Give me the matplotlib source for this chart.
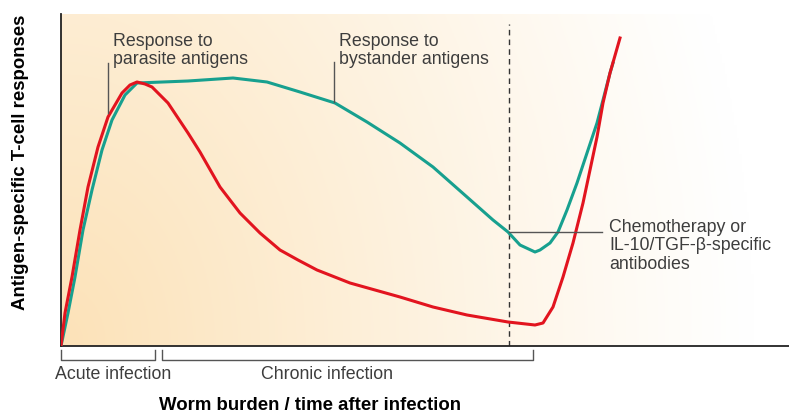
import numpy as np
import matplotlib.pyplot as plt

# ---- DATA (arbitrary units: x = time, y = response) ----
red_x = [0, 4, 11, 19, 27, 37, 47, 61, 69, 76, 84, 91, 107, 127, 139, 159, 179, 199, 219, 237,
         256, 289, 339, 372, 406, 447, 474, 482, 492, 502, 512, 522, 529, 536, 542, 549, 559]
red_y = [0, 33, 69, 116, 159, 199, 229, 253, 261, 264, 262, 259, 243, 213, 194, 159, 133, 113, 96, 86,
         76, 63, 49, 39, 31, 24, 21, 23, 39, 69, 103, 143, 176, 209, 243, 273, 308]

teal_x = [0, 7, 14, 22, 31, 41, 51, 64, 76, 127, 172, 206, 239, 274, 306, 339, 372, 406,
          432, 447, 459, 474, 479, 489, 497, 506, 516, 526, 536, 542, 549, 552]
teal_y = [0, 33, 69, 116, 156, 196, 226, 251, 263, 265, 268, 264, 254, 243, 224, 203, 179, 149,
          126, 114, 101, 94, 96, 103, 114, 136, 163, 193, 223, 246, 273, 283]

treatment_x = 448
phases = [("Acute infection", 0, 94, 52), ("Chronic infection", 101, 472, 266)]

RED = "#e2141f"
TEAL = "#17a08f"
TXT = "#3d3d3d"
LEAD = "#555555"

fig = plt.figure(figsize=(7.89, 4.16), dpi=100)
ax = fig.add_axes([61 / 789, 70 / 416, 728 / 789, 332 / 416])
ax.set_xlim(0, 728)
ax.set_ylim(0, 332)

# ---- BACKGROUND GRADIENT ----
gx, gy = np.meshgrid(np.linspace(0, 1, 300), np.linspace(0, 1, 150))
d = np.clip(np.sqrt((gx * 1.05) ** 2 + (gy * 0.35) ** 2), 0, 1)
w = (1 - d) ** 1.1
orange = np.array([252, 226, 184]) / 255
img = 1 - w[..., None] * (1 - orange)
ax.imshow(img, extent=[0, 728, 0, 332], origin="lower", aspect="auto", zorder=0)

# ---- CURVES ----
ax.plot(teal_x, teal_y, color=TEAL, lw=2.2, zorder=3, solid_joinstyle="round")
ax.plot(red_x, red_y, color=RED, lw=2.2, zorder=4, solid_joinstyle="round")

ax.plot([treatment_x, treatment_x], [0, 322], color="#333333", lw=1,
        linestyle=(0, (4, 3)), zorder=2)

# ---- ANNOTATIONS ----
fs = 12.8
font = "Liberation Sans"
ls = 1.1
ax.text(52, 313, "Response to\nparasite antigens", fontsize=fs, color=TXT,
        family=font, va="top", linespacing=ls)
ax.plot([47, 47], [283, 233], color=LEAD, lw=1, zorder=5)
ax.text(278, 313, "Response to\nbystander antigens", fontsize=fs, color=TXT,
        family=font, va="top", linespacing=ls)
ax.plot([273, 273], [284, 244], color=LEAD, lw=1, zorder=5)
ax.text(548, 127, "Chemotherapy or\nIL-10/TGF-β-specific\nantibodies", fontsize=fs,
        color=TXT, family=font, va="top", linespacing=ls)
ax.plot([treatment_x, 541], [114, 114], color=LEAD, lw=1, zorder=5)

# ---- PHASE BRACKETS ----
for label, x0, x1, xt in phases:
    ax.plot([x0, x0, x1, x1], [-4, -14, -14, -4], color=LEAD, lw=1,
            clip_on=False)
    ax.text(xt, -20, label, fontsize=fs, color=TXT, family=font,
            ha="center", va="top", clip_on=False)

# ---- AXES ----
for s in ["top", "right"]:
    ax.spines[s].set_visible(False)
for s in ["left", "bottom"]:
    ax.spines[s].set_linewidth(1.3)
    ax.spines[s].set_color("#222222")
ax.set_xticks([])
ax.set_yticks([])

fig.text(21 / 789, 1 - 162 / 416, "Antigen-specific T-cell responses", rotation=90,
         fontsize=13.4, fontweight="bold", family=font, ha="center", va="center")
fig.text(310 / 789, 1 - 406 / 416, "Worm burden / time after infection",
         fontsize=13.4, fontweight="bold", family=font, ha="center", va="center")

fig.savefig("out.png", dpi=100)
